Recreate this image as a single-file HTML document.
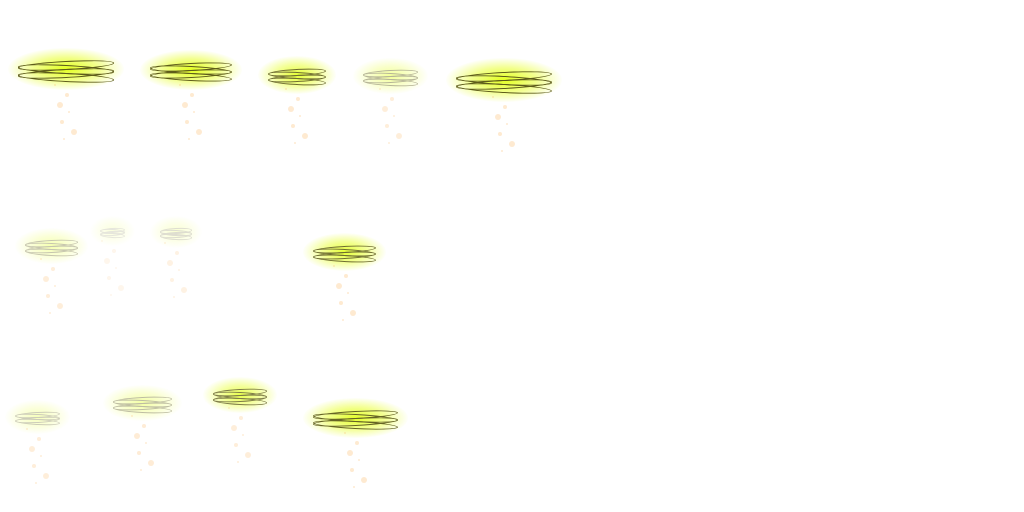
<!DOCTYPE html>
<html><head><meta charset="utf-8">
<style>
html,body{margin:0;padding:0;background:#fff;}
#sheet{position:relative;width:1024px;height:512px;overflow:hidden;background:#fff;}
.spr{position:absolute;}
.glow{position:absolute;left:-10px;right:-10px;top:-10px;bottom:-10px;border-radius:50%;background:radial-gradient(ellipse at center,rgba(225,255,20,0.95) 0%,rgba(235,255,70,0.6) 40%,rgba(255,255,255,0) 72%);}
.band{position:absolute;left:0;right:0;height:2px;border-radius:50%;border:1px solid #5e5c1a;background:transparent;}
.spark{position:absolute;border-radius:50%;background:rgba(250,180,90,0.4);}
</style></head><body>
<div id="sheet"></div>
<script>
const sprites=[
 [18,58,96,22,1,1],[150,60,82,20,1,1],[268,66,58,18,0.9,1],[363,68,55,16,0.45,0.8],[456,68,96,24,1,1],
 [25,238,53,16,0.35,0.8],[100,226,25,10,0.15,0.4],[160,226,32,12,0.2,0.6],[313,243,63,18,0.9,1],
 [15,410,45,14,0.3,0.8],[113,395,59,16,0.4,0.9],[213,387,54,16,0.8,0.8],[313,408,85,20,0.95,1]
];
const sheet=document.getElementById('sheet');
sprites.forEach((s,i)=>{
 const [x,y,w,h,op,sp]=s;
 const d=document.createElement('div');
 d.className='spr';
 
 
 d.style.cssText=`left:${x}px;top:${y}px;width:${w}px;height:${h}px;opacity:${op}`;
 const g=document.createElement('div');g.className='glow';
 
 
 d.appendChild(g);
 for(let k=0;k<4;k++){
  const b=document.createElement('div');b.className='band';
  
  
  b.style.top=(h*0.15+k*h*0.17)+'px';
  b.style.height=(h*0.3)+'px';
  b.style.transform=`rotate(${(k%2?1:-1)*3}deg)`;
  d.appendChild(b);
 }
 sheet.appendChild(d);
 for(let k=0;k<7;k++){
  const p=document.createElement('div');p.className='spark';
  
  
  const sz=2+(k%3)*2;
  p.style.cssText=`left:${x+w*0.5+((k*11)%19)-12}px;top:${y+h+4+k*9}px;width:${sz}px;height:${sz}px;opacity:${sp*0.7}`;
  sheet.appendChild(p);
 }
});
</script>
</body></html>
